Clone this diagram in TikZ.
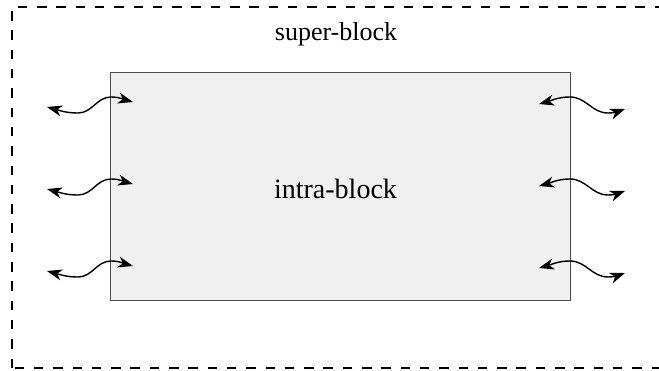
\documentclass[tikz,border=0pt]{standalone}
\usepackage{fontspec}
\setmainfont{Liberation Serif}
\usetikzlibrary{arrows.meta}
\tikzset{
	wiggle/.style={line width=1.4bp, {Stealth[length=15bp,width=11bp,inset=4.5bp]}-{Stealth[length=15bp,width=11bp,inset=4.5bp]}},
	blockbox/.style={draw=black!70, fill=black!6, line width=1bp, minimum width=459bp, minimum height=227bp},
}
\begin{document}
\begin{tikzpicture}[x=1bp, y=1bp]
		%%%%% START %%%%%
		\useasboundingbox (0, 0) rectangle (659, 370);
		\clip (0, 0) rectangle (659, 370);
		
		\draw[line width=1.2bp, dash pattern=on 9.5bp off 9.8bp] (12, 2) rectangle (680, 363);
		\node[anchor=base, font=\fontsize{26bp}{30bp}\selectfont] (super) at (336, 329.5) {super-block};
		
		\node[blockbox] (block) at (340.5, 183.5) {};
		\node[anchor=base, font=\fontsize{28bp}{32bp}\selectfont] (intra) at (335.5, 172) {intra-block};
		
		% left side
		\coordinate (l1a) at (47, 263);
		\coordinate (l1b) at (133, 268);
		\coordinate (l2a) at (47, 181);
		\coordinate (l2b) at (133, 186);
		\coordinate (l3a) at (47, 99);
		\coordinate (l3b) at (133, 104);
		\draw[wiggle] (l1a) to[out=-15, in=180] ++(31, -6) to[out=0, in=180] ++(33, 16) to[out=0, in=165] (l1b);
		\draw[wiggle] (l2a) to[out=-15, in=180] ++(31, -6) to[out=0, in=180] ++(33, 16) to[out=0, in=165] (l2b);
		\draw[wiggle] (l3a) to[out=-15, in=180] ++(31, -6) to[out=0, in=180] ++(33, 16) to[out=0, in=165] (l3b);
		
		% right side
		\coordinate (r1a) at (539, 266);
		\coordinate (r1b) at (625, 261);
		\coordinate (r2a) at (539, 184);
		\coordinate (r2b) at (625, 179);
		\coordinate (r3a) at (539, 102);
		\coordinate (r3b) at (625, 97);
		\draw[wiggle] (r1a) to[out=15, in=180] ++(31, 7) to[out=0, in=180] ++(38, -16) to[out=0, in=200] (r1b);
		\draw[wiggle] (r2a) to[out=15, in=180] ++(31, 7) to[out=0, in=180] ++(38, -16) to[out=0, in=200] (r2b);
		\draw[wiggle] (r3a) to[out=15, in=180] ++(31, 7) to[out=0, in=180] ++(38, -16) to[out=0, in=200] (r3b);
		
		%%%%% END %%%%%
	\end{tikzpicture}
\end{document}
